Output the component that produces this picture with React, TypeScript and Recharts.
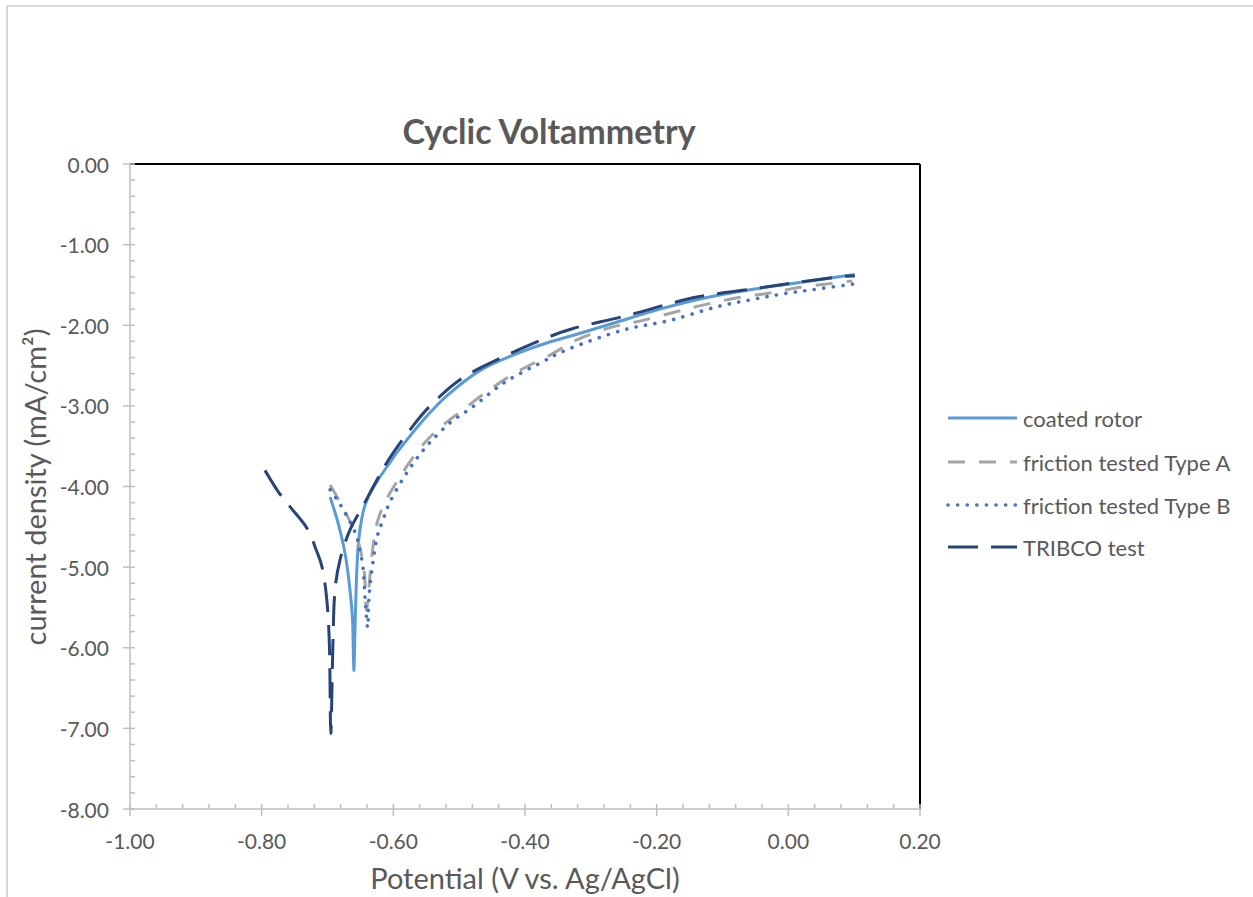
import React from 'react';
import { LineChart, Line, XAxis, YAxis, ReferenceLine } from 'recharts';

// [potential (V vs. Ag/AgCl), current density (mA/cm²)] in sweep order
const coatedRotor: [number, number][] = [
  [-0.696, -4.13], [-0.684, -4.45], [-0.674, -4.8], [-0.667, -5.2], [-0.662, -5.65],
  [-0.66, -6.28], [-0.658, -5.7], [-0.656, -5.15], [-0.653, -4.7], [-0.646, -4.32],
  [-0.638, -4.13], [-0.625, -3.94], [-0.605, -3.7], [-0.59, -3.53], [-0.555, -3.18],
  [-0.518, -2.87], [-0.468, -2.56], [-0.418, -2.37], [-0.367, -2.22], [-0.316, -2.1],
  [-0.26, -1.96], [-0.195, -1.8], [-0.12, -1.65], [-0.043, -1.54], [0.03, -1.455],
  [0.101, -1.37],
];

const typeA: [number, number][] = [
  [-0.696, -3.98], [-0.682, -4.18], [-0.669, -4.38], [-0.658, -4.58], [-0.651, -4.75],
  [-0.645, -5.0], [-0.643, -5.2], [-0.641, -5.53], [-0.637, -5.25], [-0.635, -5.07],
  [-0.628, -4.58], [-0.616, -4.25], [-0.59, -3.88], [-0.559, -3.52], [-0.529, -3.27],
  [-0.488, -3.01], [-0.449, -2.77], [-0.408, -2.56], [-0.362, -2.37], [-0.321, -2.18],
  [-0.271, -2.03], [-0.221, -1.94], [-0.169, -1.83], [-0.13, -1.75], [-0.078, -1.66],
  [-0.028, -1.6], [0.018, -1.53], [0.068, -1.48], [0.097, -1.45],
];

const typeB: [number, number][] = [
  [-0.696, -4.04], [-0.678, -4.26], [-0.658, -4.57], [-0.651, -4.79], [-0.646, -5.01],
  [-0.643, -5.37], [-0.639, -5.75], [-0.637, -5.37], [-0.632, -5.0], [-0.625, -4.64],
  [-0.616, -4.42], [-0.605, -4.19], [-0.585, -3.9], [-0.565, -3.66], [-0.544, -3.45],
  [-0.514, -3.21], [-0.479, -3.01], [-0.433, -2.72], [-0.382, -2.49], [-0.332, -2.29],
  [-0.251, -2.06], [-0.18, -1.94], [-0.108, -1.77], [-0.054, -1.68], [-0.008, -1.61],
  [0.036, -1.56], [0.098, -1.49],
];

const tribco: [number, number][] = [
  [-0.795, -3.8], [-0.776, -4.05], [-0.757, -4.25], [-0.731, -4.52], [-0.717, -4.79],
  [-0.708, -5.01], [-0.701, -5.41], [-0.697, -6.0], [-0.695, -7.06], [-0.692, -6.03],
  [-0.689, -5.32], [-0.681, -4.91], [-0.666, -4.54], [-0.646, -4.24], [-0.625, -3.92],
  [-0.605, -3.64], [-0.575, -3.3], [-0.544, -3.0], [-0.496, -2.66], [-0.435, -2.4],
  [-0.377, -2.19], [-0.327, -2.04], [-0.245, -1.88], [-0.145, -1.66], [-0.054, -1.55],
  [0.013, -1.47], [0.078, -1.4], [0.101, -1.39],
];

const seriesNames = ['coated rotor', 'friction tested Type A', 'friction tested Type B', 'TRIBCO test'];

const xMajorTicks = [-1.0, -0.8, -0.6, -0.4, -0.2, 0.0, 0.2];
const yMajorTicks = [0, -1, -2, -3, -4, -5, -6, -7, -8];
const MINOR_DIV = 5;

const TEXT = '#595959';
const AXIS = '#BFBFBF';
const FONT = 'Lato, "Liberation Sans", sans-serif';

const series = [
  { name: seriesNames[0], data: coatedRotor, color: '#5B9BD5', width: 3, dash: undefined as string | undefined, cap: 'butt' as const },
  { name: seriesNames[1], data: typeA, color: '#A5A5A5', width: 3, dash: '17 14', cap: 'butt' as const },
  { name: seriesNames[2], data: typeB, color: '#4472C4', width: 3.6, dash: '0.1 9.5', cap: 'round' as const },
  { name: seriesNames[3], data: tribco, color: '#264478', width: 3, dash: '30 13', cap: 'butt' as const },
];

const toPoints = (pts: [number, number][]) => pts.map(([E, j]) => ({ E, j }));

// smooth curve through every point (Catmull-Rom as cubic Béziers), works for a sweep that turns back on x
const smoothCurve = (context: any) => {
  let pts: [number, number][] = [];
  return {
    areaStart() {},
    areaEnd() {},
    lineStart() {
      pts = [];
    },
    point(x: number, y: number) {
      pts.push([+x, +y]);
    },
    lineEnd() {
      if (!pts.length) return;
      context.moveTo(pts[0][0], pts[0][1]);
      for (let i = 0; i < pts.length - 1; i++) {
        const p0 = pts[Math.max(i - 1, 0)];
        const p1 = pts[i];
        const p2 = pts[i + 1];
        const p3 = pts[Math.min(i + 2, pts.length - 1)];
        context.bezierCurveTo(
          p1[0] + (p2[0] - p0[0]) / 6,
          p1[1] + (p2[1] - p0[1]) / 6,
          p2[0] - (p3[0] - p1[0]) / 6,
          p2[1] - (p3[1] - p1[1]) / 6,
          p2[0],
          p2[1],
        );
      }
    },
  };
};

const withMinors = (majors: number[], div: number) => {
  const s = [...majors].sort((a, b) => a - b);
  const out: number[] = [];
  for (let i = 0; i < s.length - 1; i++) {
    for (let k = 0; k < div; k++) out.push(+(s[i] + ((s[i + 1] - s[i]) * k) / div).toFixed(6));
  }
  out.push(s[s.length - 1]);
  return out;
};

const isMajor = (majors: number[], v: number) => majors.some((m) => Math.abs(m - v) < 1e-6);

const XTick = (props: any) => {
  const { x, y, payload } = props;
  const v = payload.value as number;
  const major = isMajor(xMajorTicks, v);
  return (
    <g>
      <line x1={x} x2={x} y1={y - 5} y2={major ? y + 7 : y} stroke={AXIS} strokeWidth={1.5} />
      {major && (
        <text x={x} y={y + 31} textAnchor="middle" dominantBaseline="central" fill={TEXT} fontSize={21} fontFamily={FONT}>
          {v.toFixed(2)}
        </text>
      )}
    </g>
  );
};

const YTick = (props: any) => {
  const { x, y, payload } = props;
  const v = payload.value as number;
  const major = isMajor(yMajorTicks, v);
  return (
    <g>
      <line x1={major ? x - 7 : x} x2={x + 5} y1={y} y2={y} stroke={AXIS} strokeWidth={1.5} />
      {major && (
        <text x={x - 21} y={y} textAnchor="end" dominantBaseline="central" fill={TEXT} fontSize={21} fontFamily={FONT}>
          {v.toFixed(2)}
        </text>
      )}
    </g>
  );
};

const legendRows = [418, 462, 505, 547];

export default function App() {
  return (
    <div style={{ position: 'absolute', left: 0, top: 0, width: 1253, height: 897, background: '#fff', overflow: 'hidden' }}>
      <div style={{ position: 'absolute', left: 6, top: 5, width: 1400, height: 1000, border: '2px solid #D9D9D9' }} />
      <div style={{ position: 'absolute', left: 0, top: 0 }}>
        <LineChart width={1253} height={897} margin={{ top: 164, right: 333, bottom: 28, left: 50 }}>
          <XAxis
            dataKey="E"
            type="number"
            domain={[-1, 0.2]}
            ticks={withMinors(xMajorTicks, MINOR_DIV)}
            interval={0}
            allowDataOverflow
            height={60}
            tickSize={0}
            tickMargin={0}
            tickLine={false}
            tick={<XTick />}
            axisLine={{ stroke: AXIS, strokeWidth: 1.5 }}
          />
          <YAxis
            type="number"
            domain={[-8, 0]}
            ticks={withMinors(yMajorTicks, MINOR_DIV)}
            interval={0}
            allowDataOverflow
            width={80}
            tickSize={0}
            tickMargin={0}
            tickLine={false}
            tick={<YTick />}
            axisLine={{ stroke: AXIS, strokeWidth: 1.5 }}
          />
          <ReferenceLine y={0} stroke="#000" strokeWidth={2} ifOverflow="extendDomain" />
          <ReferenceLine x={0.2} stroke="#000" strokeWidth={2} ifOverflow="extendDomain" />
          {series.map((s) => (
            <Line
              key={s.name}
              name={s.name}
              data={toPoints(s.data)}
              dataKey="j"
              type={smoothCurve as any}
              stroke={s.color}
              strokeWidth={s.width}
              strokeDasharray={s.dash}
              strokeLinecap={s.cap}
              strokeLinejoin="round"
              dot={false}
              activeDot={false}
              isAnimationActive={false}
            />
          ))}
        </LineChart>
      </div>
      <svg width={1253} height={897} style={{ position: 'absolute', left: 0, top: 0, pointerEvents: 'none' }}>
        <text x={549} y={130} textAnchor="middle" dominantBaseline="central" fill={TEXT} fontSize={34} fontWeight={700} fontFamily={FONT}>
          Cyclic Voltammetry
        </text>
        <text x={525} y={877} textAnchor="middle" dominantBaseline="central" fill={TEXT} fontSize={29} fontFamily={FONT}>
          Potential (V vs. Ag/AgCl)
        </text>
        <text
          x={34}
          y={487}
          textAnchor="middle"
          dominantBaseline="central"
          transform="rotate(-90 34 487)"
          fill={TEXT}
          fontSize={29}
          fontFamily={FONT}
        >
          current density (mA/cm²)
        </text>
        {series.map((s, i) => (
          <g key={s.name}>
            <line
              x1={948}
              x2={1017}
              y1={legendRows[i]}
              y2={legendRows[i]}
              stroke={s.color}
              strokeWidth={s.width}
              strokeDasharray={s.dash}
              strokeLinecap={s.cap}
            />
            <text x={1023} y={legendRows[i]} dominantBaseline="central" fill={TEXT} fontSize={22} fontFamily={FONT}>
              {s.name}
            </text>
          </g>
        ))}
      </svg>
    </div>
  );
}
